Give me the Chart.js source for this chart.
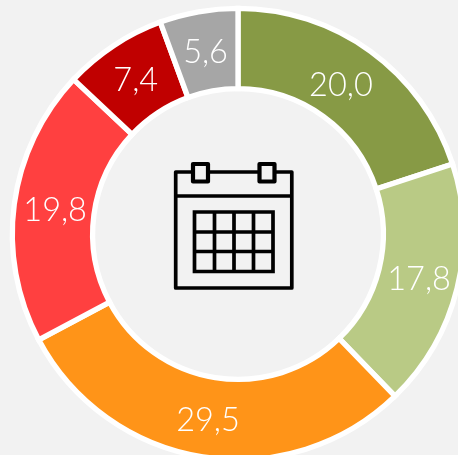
<!DOCTYPE html>
<html>
<head>
<meta charset="utf-8">
<title>Doughnut</title>
<script src="https://cdn.jsdelivr.net/npm/chart.js@4"></script>
<style>
    html, body { margin: 0; padding: 0; background: #f2f2f2; }
    #wrap { position: relative; width: 458px; height: 455px; overflow: hidden; }
    #box { position: absolute; left: 0; top: 0; width: 476px; height: 468px; }
    #icone { position: absolute; left: 0; top: 0; }
</style>
</head>
<body>
<div id="wrap">
    <div id="box"><canvas id="myChart"></canvas></div>
    <!-- icone do calendario no centro -->
    <svg id="icone" width="458" height="455" fill="none" stroke="#000" stroke-width="3.7" stroke-linejoin="round">
        <path d="M193 172H175.7V288H291.8V172H274.5M208 172H259.5M175.7 196H291.8"/>
        <rect x="193" y="164" width="15" height="17.5" stroke-width="4.2"/>
        <rect x="259.5" y="164" width="15" height="17.5" stroke-width="4.2"/>
        <path stroke-linejoin="miter" d="M194.5 212H273V271.5H194.5ZM214.5 212V271.5M234 212V271.5M253.5 212V271.5M194.5 232H273M194.5 251.5H273"/>
    </svg>
</div>
<script>
const categorias = ['A', 'B', 'C', 'D', 'E', 'F'];
const valores = [20.0, 17.8, 29.5, 19.8, 7.4, 5.6];
const cores = ['#879a45', '#b9ca85', '#ff9418', '#ff4040', '#c00000', '#a6a6a6'];

// ajuste fino de cada rotulo em relacao ao centro da fatia
const ajusteX = [-6, 1, -1, 1, 0, 0];
const ajusteY = [2, 1, 3, 1, 1, 1];

// escreve o valor no meio de cada fatia
const rotulos = {
    id: 'rotulos',
    afterDatasetsDraw(chart) {
        const ctx = chart.ctx;
        ctx.save();
        ctx.fillStyle = '#fff';
        ctx.font = '300 32.5px Lato';
        ctx.textAlign = 'center';
        ctx.textBaseline = 'middle';
        chart.getDatasetMeta(0).data.forEach(function (arco, i) {
            const p = arco.tooltipPosition();
            ctx.fillText(valores[i].toFixed(1).replace('.', ','), p.x + ajusteX[i], p.y + ajusteY[i]);
        });
        ctx.restore();
    }
};

new Chart(document.getElementById('myChart'), {
    type: 'doughnut',
    data: {
        labels: categorias,
        datasets: [{
            data: valores,
            backgroundColor: cores,
            borderColor: '#fff',
            borderWidth: 5.3,
            borderJoinStyle: 'miter'
        }]
    },
    options: {
        responsive: true,
        maintainAspectRatio: false,
        animation: false,
        radius: 225.7,
        cutout: 149,
        plugins: {
            legend: { display: false },
            tooltip: { enabled: false }
        }
    },
    plugins: [rotulos]
});
</script>
</body>
</html>
